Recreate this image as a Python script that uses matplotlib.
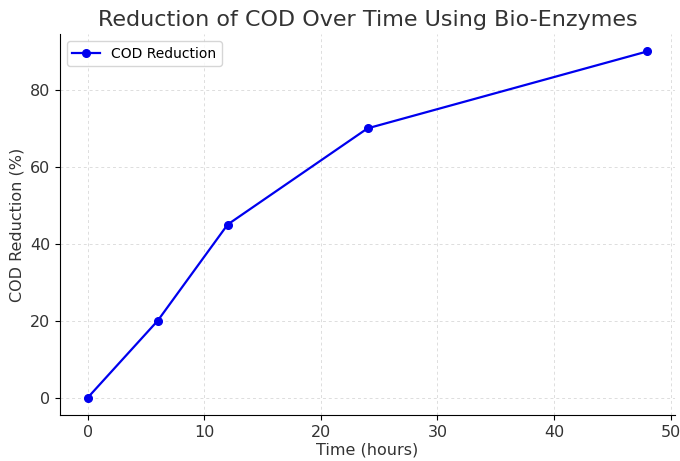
import matplotlib
matplotlib.use("Agg")
from matplotlib import pyplot as plt

time_hours = [0, 6, 12, 24, 48]
cod_reduction = [0, 20, 45, 70, 90]

fig = plt.figure(figsize=(6.8, 4.61), dpi=100)
ax = fig.add_axes([0.088, 0.10, 0.905, 0.826])

ax.plot(time_hours, cod_reduction, marker="o", color="#0000ee", linewidth=1.6,
        markersize=5.5, label="COD Reduction")

ax.set_title("Reduction of COD Over Time Using Bio-Enzymes", fontsize=16, color="#333333")
ax.set_xlabel("Time (hours)", fontsize=11.5, color="#333333", labelpad=2)
ax.set_ylabel("COD Reduction (%)", fontsize=11.5, color="#333333")
ax.tick_params(labelsize=11.5, labelcolor="#333333")
ax.grid(True, linestyle=(0, (3, 3)), color="#dddddd", linewidth=0.7)
ax.spines["top"].set_visible(False)
ax.spines["right"].set_visible(False)
ax.legend(loc="upper left", fontsize=10)

plt.savefig("out.png", dpi=100)
